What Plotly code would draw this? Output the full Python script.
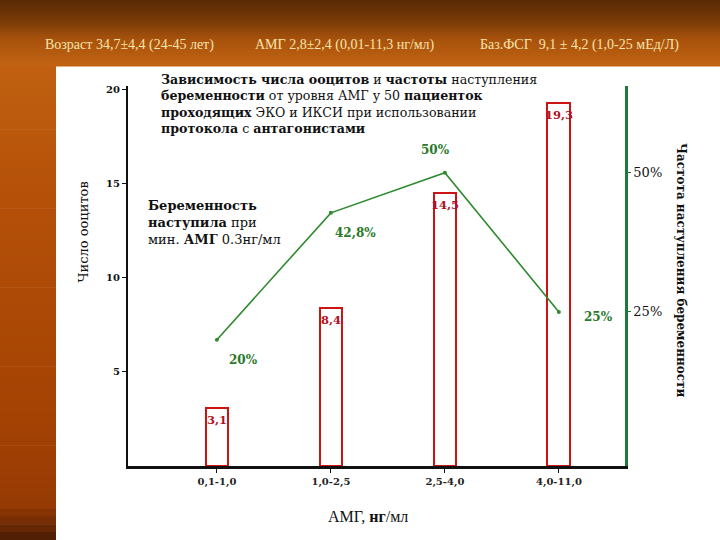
import plotly.graph_objects as go

# ---------------- data ----------------
categories = ["0,1-1,0", "1,0-2,5", "2,5-4,0", "4,0-11,0"]
oocytes = [3.1, 8.4, 14.5, 19.3]
oocyte_labels = ["3,1", "8,4", "14,5", "19,3"]
pregnancy_rate = [20, 42.8, 50, 25]
pregnancy_labels = ["20%", "42,8%", "50%", "25%"]
y_ticks = [5, 10, 15, 20]
y2_ticks = [25, 50]
y2_tick_labels = ["25%", "50%"]

header_texts = ["Возраст 34,7±4,4 (24-45 лет)",
                "АМГ 2,8±2,4 (0,01-11,3 нг/мл)",
                "Баз.ФСГ  9,1 ± 4,2 (1,0-25 мЕд/Л)"]

# ---------------- geometry helpers ----------------
W, H = 720, 540
L, R, T, B = 128, 625, 86, 466


def px(x):
    return (x - L) / (R - L)


def py(y):
    return (B - y) / (B - T)


xs = list(range(len(categories)))

fig = go.Figure()

fig.add_trace(go.Bar(
    x=xs, y=oocytes, width=0.2,
    marker=dict(color="white", line=dict(color="#cc1414", width=2)),
    hoverinfo="skip", showlegend=False))

# bar value labels just inside the top of each bar
for xv, yv, t in zip(xs, oocytes, oocyte_labels):
    fig.add_annotation(x=xv, y=yv, xref="x", yref="y", text="<b>%s</b>" % t,
                       showarrow=False, yanchor="top", yshift=-3,
                       font=dict(family="DejaVu Serif", size=11.5, color="#b3101e"))

fig.add_trace(go.Scatter(
    x=xs, y=pregnancy_rate, yaxis="y2", mode="lines+markers",
    line=dict(color="#2f8a2f", width=1.6),
    marker=dict(color="#2f8a2f", size=4),
    showlegend=False))

# percent labels near line points
label_shift = [(27, -20), (25, -20), (-9, 23), (40, -5)]
for xv, yv, t, (dx, dy) in zip(xs, pregnancy_rate, pregnancy_labels, label_shift):
    fig.add_annotation(x=xv, y=yv, xref="x", yref="y2", text="<b>%s</b>" % t,
                       showarrow=False, xshift=dx, yshift=dy,
                       font=dict(family="DejaVu Serif", size=12, color="#2a7a2a"))

# ---------------- background shapes ----------------
shapes = []


def lerp(c1, c2, t):
    return tuple(int(round(a + (b - a) * t)) for a, b in zip(c1, c2))


def hexc(c):
    return "#%02x%02x%02x" % c


top_stops = [(0, (88, 40, 5)), (22, (122, 60, 8)), (40, (168, 82, 12)), (66, (194, 100, 18))]
n = 33
for i in range(n):
    y0 = 66 * i / n
    y1 = 66 * (i + 1) / n + 0.6
    ym = (y0 + y1) / 2
    for (a, ca), (b, cb) in zip(top_stops[:-1], top_stops[1:]):
        if a <= ym <= b:
            col = lerp(ca, cb, (ym - a) / (b - a))
            break
    shapes.append(dict(type="rect", xref="paper", yref="paper",
                       x0=px(0), x1=px(W), y0=py(y1), y1=py(y0),
                       fillcolor=hexc(col), line=dict(width=0), layer="below"))

left_stops = [(66, (192, 96, 16)), (200, (180, 80, 8)), (420, (164, 66, 4)),
              (505, (150, 58, 4)), (525, (110, 42, 4)), (540, (70, 28, 4))]
n = 60
for i in range(n):
    y0 = 66 + (540 - 66) * i / n
    y1 = 66 + (540 - 66) * (i + 1) / n + 0.6
    ym = (y0 + y1) / 2
    for (a, ca), (b, cb) in zip(left_stops[:-1], left_stops[1:]):
        if a <= ym <= b:
            col = lerp(ca, cb, (ym - a) / (b - a))
            break
    shapes.append(dict(type="rect", xref="paper", yref="paper",
                       x0=px(0), x1=px(56), y0=py(y1), y1=py(y0),
                       fillcolor=hexc(col), line=dict(width=0), layer="below"))

fig.update_layout(shapes=shapes)

# ---------------- header texts ----------------
header_x = [43, 253, 478]
for hx, t in zip(header_x, header_texts):
    fig.add_annotation(x=px(hx), y=py(45), xref="paper", yref="paper", text=t,
                       showarrow=False, xanchor="left", yanchor="middle",
                       font=dict(family="Liberation Serif", size=14, color="#f7e4ac"))

# ---------------- chart text blocks ----------------
title_text = ("<b>Зависимость числа ооцитов</b> и <b>частоты</b> наступления<br>"
              "<b>беременности</b> от уровня АМГ у 50 <b>пациенток</b><br>"
              "<b>проходящих</b> ЭКО и ИКСИ при использовании<br>"
              "<b>протокола</b> с <b>антагонистами</b>")
fig.add_annotation(x=px(159), y=py(70), xref="paper", yref="paper", text=title_text,
                   showarrow=False, xanchor="left", yanchor="top", align="left",
                   font=dict(family="DejaVu Serif", size=12.6, color="#111111"))

note_text = "<b>Беременность</b><br><b>наступила</b> при<br>мин. <b>АМГ</b> 0.3нг/мл"
fig.add_annotation(x=px(146), y=py(196), xref="paper", yref="paper", text=note_text,
                   showarrow=False, xanchor="left", yanchor="top", align="left",
                   font=dict(family="DejaVu Serif", size=13, color="#111111"))

fig.add_annotation(x=px(73), y=py(232), xref="paper", yref="paper", text="Число ооцитов",
                   showarrow=False, textangle=-90,
                   font=dict(family="DejaVu Serif", size=13, color="#111111"))

fig.add_annotation(x=px(690), y=py(270), xref="paper", yref="paper",
                   text="<b>Частота наступления беременности</b>",
                   showarrow=False, textangle=90,
                   font=dict(family="DejaVu Serif", size=12, color="#111111"))

fig.add_annotation(x=px(368), y=py(527), xref="paper", yref="paper",
                   text="АМГ, <b>нг</b>/мл",
                   showarrow=False,
                   font=dict(family="Liberation Serif", size=16, color="#111111"))

# ---------------- axes & layout ----------------
fig.update_layout(
    width=W, height=H,
    margin=dict(l=L, r=W - R, t=T, b=H - B, pad=0),
    paper_bgcolor="white", plot_bgcolor="white",
    bargap=0,
    xaxis=dict(range=[-0.78, 3.58], tickvals=xs, ticktext=categories,
               showline=True, linecolor="#111111", linewidth=2.5,
               ticks="outside", ticklen=4, tickcolor="#111111",
               showgrid=False, zeroline=False,
               tickfont=dict(family="DejaVu Serif", size=10, color="#222222", weight="bold")),
    yaxis=dict(range=[0, 20.2], tickvals=y_ticks,
               showline=True, linecolor="#111111", linewidth=2,
               ticks="outside", ticklen=4, tickcolor="#111111",
               showgrid=False, zeroline=False,
               tickfont=dict(family="DejaVu Serif", size=10, color="#111111", weight="bold")),
    yaxis2=dict(range=[-2.7, 65.6], overlaying="y", side="right",
                tickvals=y2_ticks, ticktext=y2_tick_labels,
                showline=True, linecolor="#1e7a3c", linewidth=2.5,
                ticks="outside", ticklen=3, tickcolor="#1e7a3c",
                showgrid=False, zeroline=False,
                tickfont=dict(family="DejaVu Serif", size=13, color="#111111")),
)

fig.write_html("out.html", config={"displayModeBar": False},
               post_script="document.body.style.margin='0';")
